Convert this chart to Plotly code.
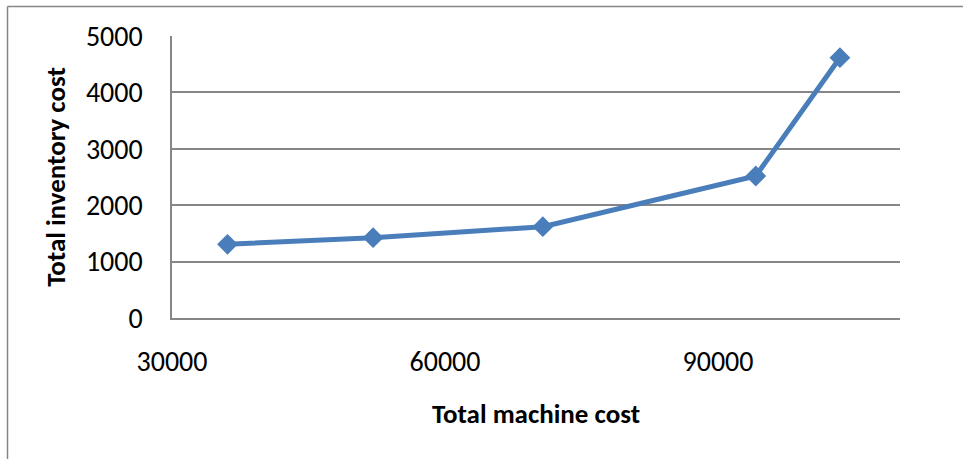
import plotly.graph_objects as go

# Machine cost vs. inventory cost
machine_cost = [36100, 52100, 70750, 94150, 103400]
inventory_cost = [1307, 1424, 1619, 2518, 4615]

x_ticks = [30000, 60000, 90000]
y_ticks = [0, 1000, 2000, 3000, 4000, 5000]

FONT = "Carlito, Calibri, Lato, sans-serif"
BLUE = "#4A7EBB"
GRID = "#868686"

fig = go.Figure()
fig.add_trace(go.Scatter(
    x=machine_cost,
    y=inventory_cost,
    mode="lines+markers",
    line=dict(color=BLUE, width=5),
    marker=dict(symbol="diamond", size=16, color=BLUE),
    showlegend=False,
))

fig.update_layout(
    width=963,
    height=459,
    margin=dict(l=172, r=63, t=36, b=141),
    paper_bgcolor="white",
    plot_bgcolor="white",
    font=dict(family=FONT, color="black", size=28),
    xaxis=dict(
        range=[30000, 110000],
        tickvals=x_ticks,
        ticktext=[str(v) for v in x_ticks],
        showgrid=False,
        zeroline=False,
        showline=True,
        linecolor=GRID,
        linewidth=1.5,
        ticks="",
        ticklabelstandoff=18,
        tickfont=dict(size=28),
        title=dict(text="<b>Total machine cost</b>", font=dict(size=27), standoff=26),
    ),
    yaxis=dict(
        range=[0, 5000],
        tickvals=y_ticks,
        ticktext=[str(v) for v in y_ticks],
        showgrid=True,
        gridcolor=GRID,
        gridwidth=1.5,
        zeroline=False,
        showline=True,
        linecolor=GRID,
        linewidth=1.5,
        ticks="",
        ticklabelstandoff=22,
        tickfont=dict(size=28),
        title=dict(text="<b>Total inventory cost</b>", font=dict(size=27), standoff=12),
    ),
    shapes=[
        # chart frame (top and left edges)
        dict(type="line", xref="paper", yref="paper",
             x0=(7.5 - 172) / 728, x1=1.2, y0=(318 - 6.5) / 282, y1=(318 - 6.5) / 282,
             line=dict(color=GRID, width=1.5)),
        dict(type="line", xref="paper", yref="paper",
             x0=(7.5 - 172) / 728, x1=(7.5 - 172) / 728, y0=(318 - 6.5) / 282, y1=-0.7,
             line=dict(color=GRID, width=1.5)),
    ],
)

fig.write_html("out.html")
